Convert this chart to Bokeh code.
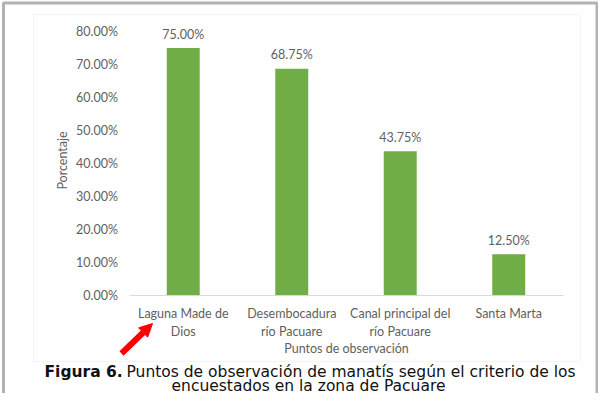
import math
from bokeh.plotting import figure
from bokeh.core.properties import value
from bokeh.models import (ColumnDataSource, NumeralTickFormatter, LabelSet, Label,
                          BoxAnnotation, Arrow, NormalHead, Range1d, LinearAxis,
                          FixedTicker)
from bokeh.embed import file_html
from bokeh.resources import INLINE

# ---- data -------------------------------------------------------------
categories = ["Laguna Made de\nDios", "Desembocadura\nrío Pacuare",
              "Canal principal del\nrío Pacuare", "Santa Marta"]
values = [0.75, 0.6875, 0.4375, 0.125]
value_labels = ["75.00%", "68.75%", "43.75%", "12.50%"]
y_ticks = [0.0, 0.1, 0.2, 0.3, 0.4, 0.5, 0.6, 0.7, 0.8]
x_title = "Puntos de observación"
y_title = "Porcentaje"
caption_bold = "Figura 6."
caption_1 = "Puntos de observación de manatís según el criterio de los"
caption_2 = "encuestados en la zona de Pacuare"

# ---- layout (pixels) ---------------------------------------------------
W, H = 598, 393
PLOT_LEFT, CAT_W = 128.5, 108.5      # pixel of x=0 and width of one category
ZERO_Y, PX_PER_UNIT = 295.0, 330.0   # pixel of y=0 and pixels per 100 %

xpos = [i + 0.5 for i in range(len(categories))]
x_range = Range1d(-PLOT_LEFT / CAT_W, (W - PLOT_LEFT) / CAT_W)
y_range = Range1d((ZERO_Y - H) / PX_PER_UNIT, ZERO_Y / PX_PER_UNIT)

FONT = "Lato"
GRAY = "#5f5f5f"
FS = "12.5px"

src = ColumnDataSource(dict(x=xpos, val=values, lab=value_labels))

p = figure(width=W, height=H, x_range=x_range, y_range=y_range,
           x_axis_location=None, y_axis_location=None, min_border=0,
           output_backend="svg", toolbar_location=None)
p.outline_line_color = None
p.background_fill_color = "white"
p.border_fill_color = "white"
p.grid.visible = False

p.vbar(x="x", top="val", width=0.304, source=src, color="#70AD47", line_color=None)

p.add_layout(LabelSet(x="x", y="val", text="lab", source=src, text_align="center",
                      text_baseline="middle", y_offset=14, text_font=value(FONT),
                      text_font_size=value(FS), text_color=GRAY))

# ---- axes ------------------------------------------------------------------
xa = LinearAxis(fixed_location=0, bounds=(0, len(categories)),
                ticker=FixedTicker(ticks=xpos),
                major_label_overrides={x: c for x, c in zip(xpos, categories)})
xa.axis_line_color = "#d9d9d9"
xa.axis_line_width = 1
xa.major_tick_line_color = None
xa.minor_tick_line_color = None
xa.major_tick_out = 0
xa.major_tick_in = 0
xa.minor_tick_out = 0
xa.major_label_standoff = 10
xa.major_label_text_font = FONT
xa.major_label_text_font_size = FS
xa.major_label_text_color = GRAY
xa.major_label_text_line_height = 1.2
p.add_layout(xa, "below")

ya = LinearAxis(fixed_location=0, ticker=FixedTicker(ticks=y_ticks),
                formatter=NumeralTickFormatter(format="0.00%"))
ya.axis_line_color = None
ya.major_tick_line_color = None
ya.minor_tick_line_color = None
ya.major_tick_out = 0
ya.major_tick_in = 0
ya.minor_tick_out = 0
ya.major_label_standoff = 11
ya.major_label_text_font = FONT
ya.major_label_text_font_size = FS
ya.major_label_text_color = GRAY
p.add_layout(ya, "left")

# axis titles
p.add_layout(Label(x=346, y=348, x_units="canvas", y_units="canvas", text=x_title,
                   text_font=FONT, text_font_size=FS, text_color=GRAY,
                   text_align="center", text_baseline="middle"))
p.add_layout(Label(x=62, y=160, x_units="canvas", y_units="canvas", text=y_title,
                   angle=math.pi / 2, text_font=FONT, text_font_size=FS,
                   text_color=GRAY, text_align="center", text_baseline="middle"))

# ---- frames ------------------------------------------------------------
p.add_layout(BoxAnnotation(left=3, right=596.5, top=2.5, bottom=520,
                           left_units="canvas", right_units="canvas",
                           top_units="canvas", bottom_units="canvas",
                           fill_alpha=0, line_color="black", line_width=3))
p.add_layout(BoxAnnotation(left=33, right=580, top=14, bottom=361,
                           left_units="canvas", right_units="canvas",
                           top_units="canvas", bottom_units="canvas",
                           fill_alpha=0, line_color="#d9d9d9", line_width=1))

# ---- red arrow -------------------------------------------------------------
p.add_layout(Arrow(x_start=121, y_start=353, x_end=152, y_end=323,
                   start_units="canvas", end_units="canvas",
                   line_color="#ff0000", line_width=6,
                   end=NormalHead(size=13, fill_color="#ff0000", line_color="#ff0000")))

# ---- caption ------------------------------------------------------------
CAP_FONT = "DejaVu Sans"
CAP_FS = "15.5px"
p.add_layout(Label(x=44, y=371, x_units="canvas", y_units="canvas",
                   text=caption_bold, text_font=CAP_FONT, text_font_size=CAP_FS,
                   text_font_style="bold", text_color="#111111",
                   text_baseline="middle", text_align="left"))
p.add_layout(Label(x=126, y=371, x_units="canvas", y_units="canvas",
                   text=caption_1, text_font=CAP_FONT, text_font_size=CAP_FS,
                   text_color="#111111", text_baseline="middle", text_align="left"))
p.add_layout(Label(x=308, y=385, x_units="canvas", y_units="canvas",
                   text=caption_2, text_font=CAP_FONT, text_font_size=CAP_FS,
                   text_color="#111111", text_baseline="middle", text_align="center"))

open("out.html", "w").write(file_html(p, INLINE))
